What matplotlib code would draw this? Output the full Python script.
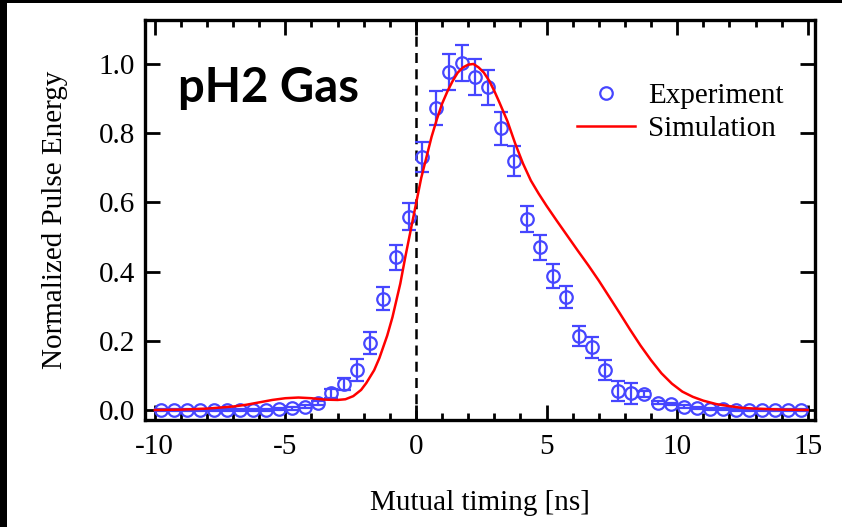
import matplotlib
matplotlib.use('Agg')
import matplotlib.pyplot as plt
from matplotlib.patches import Rectangle
from matplotlib.ticker import MultipleLocator

# measured pulse energy (open circles with error bars)
exp_time = [-9.75, -9.25, -8.75, -8.25, -7.75, -7.25, -6.75, -6.25, -5.75, -5.25,
            -4.75, -4.25, -3.75, -3.25, -2.75, -2.25, -1.75, -1.25, -0.75, -0.25,
            0.25, 0.75, 1.25, 1.75, 2.25, 2.75, 3.25, 3.75, 4.25, 4.75,
            5.25, 5.75, 6.25, 6.75, 7.25, 7.75, 8.25, 8.75, 9.25, 9.75,
            10.25, 10.75, 11.25, 11.75, 12.25, 12.75, 13.25, 13.75, 14.25, 14.75]
exp_energy = [0.0, 0.0, 0.0, 0.0, 0.0, 0.0, 0.0, 0.0, 0.0, 0.003,
              0.005, 0.01, 0.02, 0.048, 0.075, 0.116, 0.193, 0.322, 0.441, 0.559,
              0.732, 0.874, 0.978, 1.002, 0.963, 0.932, 0.814, 0.72, 0.551, 0.47,
              0.387, 0.326, 0.214, 0.181, 0.116, 0.056, 0.048, 0.046, 0.021, 0.017,
              0.01, 0.005, 0.002, 0.002, 0.001, 0.0, 0.0, 0.0, 0.0, 0.0]
exp_err = [0.003, 0.003, 0.003, 0.003, 0.003, 0.003, 0.003, 0.003, 0.003, 0.003,
           0.004, 0.005, 0.006, 0.012, 0.017, 0.031, 0.032, 0.034, 0.036, 0.038,
           0.043, 0.049, 0.052, 0.052, 0.052, 0.05, 0.047, 0.044, 0.038, 0.036,
           0.035, 0.032, 0.03, 0.03, 0.029, 0.029, 0.031, 0.008, 0.005, 0.004,
           0.003, 0.003, 0.003, 0.003, 0.003, 0.003, 0.003, 0.003, 0.003, 0.003]

# simulated curve
sim_time = [-10, -9, -8, -7, -6.5, -6, -5.5, -5, -4.5, -4, -3.5, -3, -2.7, -2.4,
            -2.1, -1.9, -1.6, -1.4, -1.1, -0.9, -0.6, -0.4, -0.2, 0, 0.2, 0.4,
            0.6, 0.8, 1.0, 1.2, 1.4, 1.6, 1.8, 2.0, 2.2, 2.4, 2.6, 2.8, 3.0, 3.2,
            3.5, 3.8, 4.1, 4.4, 4.7, 5.0, 5.4, 5.8, 6.2, 6.6, 7.0, 7.4, 7.8, 8.2,
            8.6, 9.0, 9.4, 9.8, 10.2, 10.6, 11.0, 11.5, 12, 12.5, 13, 14, 15]
sim_energy = [0.0, 0.001, 0.004, 0.01, 0.015, 0.022, 0.029, 0.034, 0.036, 0.034,
              0.03, 0.029, 0.031, 0.04, 0.058, 0.078, 0.115, 0.15, 0.215, 0.268,
              0.365, 0.445, 0.52, 0.595, 0.67, 0.73, 0.79, 0.84, 0.885, 0.92,
              0.95, 0.975, 0.99, 0.998, 1.0, 0.99, 0.975, 0.952, 0.922, 0.888,
              0.835, 0.77, 0.712, 0.663, 0.625, 0.59, 0.546, 0.503, 0.46, 0.418,
              0.374, 0.327, 0.28, 0.232, 0.186, 0.144, 0.106, 0.076, 0.053, 0.038,
              0.027, 0.017, 0.011, 0.006, 0.004, 0.001, 0.0]

plt.rcParams['font.family'] = 'Liberation Serif'
plt.rcParams['font.size'] = 21
plt.rcParams['axes.unicode_minus'] = False

fig = plt.figure(figsize=(8.42, 5.27), dpi=100, facecolor='white')
ax = fig.add_axes([0.172, 0.203, 0.796, 0.759])

blue = '#4646ff'
ax.axvline(0, color='black', lw=1.8, ls=(0, (4, 2.5)), zorder=1)
ax.errorbar(exp_time, exp_energy, yerr=exp_err, fmt='none', ecolor=blue,
            elinewidth=1.6, capsize=5, capthick=1.6, zorder=2)
ax.plot(exp_time, exp_energy, 'o', ms=9, mfc='none', mec=blue, mew=1.6,
        label='Experiment', zorder=3)
ax.plot(sim_time, sim_energy, color='red', lw=1.8, label='Simulation', zorder=4)

ax.set_xlim(-10.38, 15.28)
ax.set_ylim(-0.029, 1.127)
ax.xaxis.set_major_locator(MultipleLocator(5))
ax.xaxis.set_minor_locator(MultipleLocator(1))
ax.yaxis.set_major_locator(MultipleLocator(0.2))
ax.yaxis.set_major_formatter(matplotlib.ticker.FormatStrFormatter('%.1f'))
ax.tick_params(which='both', direction='in', top=True, right=True, width=2)
ax.tick_params(which='major', length=11)
ax.tick_params(which='minor', length=5)
ax.tick_params(axis='x', pad=10)
ax.tick_params(axis='y', pad=7)
for sp in ax.spines.values():
    sp.set_linewidth(2.4)

ax.set_xlabel('Mutual timing [ns]', labelpad=22)
ax.set_ylabel('Normalized Pulse Energy', labelpad=22)

ax.legend(loc='upper left', bbox_to_anchor=(0.623, 0.88), frameon=False,
          borderpad=0, labelspacing=0.22, handlelength=2.0, handletextpad=0.45)

ax.text(178, 527 - 101.7, 'pH2 Gas', transform=None, fontsize=34,
        fontweight='bold', family='Lato', va='baseline', ha='left')

# black strips along the top and left edges
fig.add_artist(Rectangle((0, 0), 7 / 842, 1, transform=fig.transFigure,
                         facecolor='black', edgecolor='none', zorder=10))
fig.add_artist(Rectangle((0, 1 - 3 / 527), 1, 3 / 527, transform=fig.transFigure,
                         facecolor='black', edgecolor='none', zorder=10))

fig.savefig('out.png', dpi=100, facecolor='white')
